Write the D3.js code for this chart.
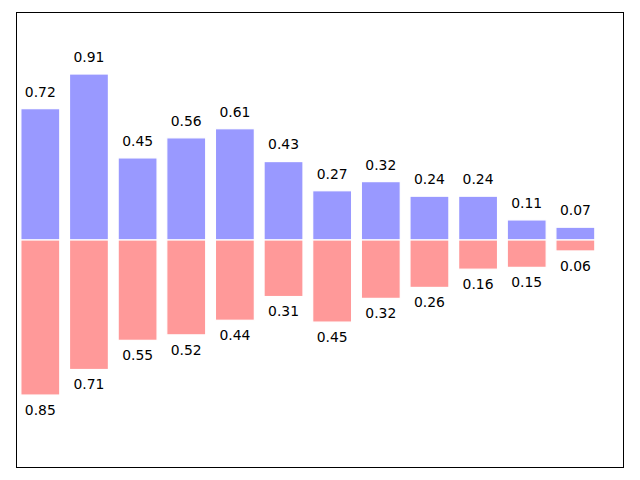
<!DOCTYPE html>
<html>
<head>
<meta charset="utf-8">
<script src="https://cdn.jsdelivr.net/npm/d3@7"></script>
<style>
  body { margin: 0; background: #fff; }
  svg { display: block; }
  text { font-family: "DejaVu Sans", sans-serif; font-size: 13.9px; fill: #000; }
</style>
</head>
<body>
<script>
// values
let indices = [0, 1, 2, 3, 4, 5, 6, 7, 8, 9, 10, 11];
let upper = [0.72, 0.91, 0.45, 0.56, 0.61, 0.43, 0.27, 0.32, 0.24, 0.24, 0.11, 0.07];
let lower = [0.85, 0.71, 0.55, 0.52, 0.44, 0.31, 0.45, 0.32, 0.26, 0.16, 0.15, 0.06];

const width = 640, height = 480;
const plotL = 16, plotR = 624, plotT = 12, plotB = 468;

const svg = d3.select("body").append("svg").attr("width", width).attr("height", height);

let x = d3.scaleLinear().domain([-0.5, 12]).range([plotL, plotR]);
let y = d3.scaleLinear().domain([-1.25, 1.25]).range([plotB, plotT]);
const barW = 0.8;

const g = svg.append("g");

// blue bars (up)
g.selectAll(".up").data(indices).enter().append("rect")
  .attr("class", "up")
  .attr("x", i => x(i - barW / 2))
  .attr("width", i => x(i + barW / 2) - x(i - barW / 2))
  .attr("y", i => y(upper[i]))
  .attr("height", i => y(0) - y(upper[i]))
  .attr("fill", "#9999ff").attr("stroke", "#fff").attr("stroke-width", 1.2);

// red bars (down)
g.selectAll(".down").data(indices).enter().append("rect")
  .attr("class", "down")
  .attr("x", i => x(i - barW / 2))
  .attr("width", i => x(i + barW / 2) - x(i - barW / 2))
  .attr("y", y(0))
  .attr("height", i => y(-lower[i]) - y(0))
  .attr("fill", "#ff9999").attr("stroke", "#fff").attr("stroke-width", 1.2);

// labels
g.selectAll(".lu").data(indices).enter().append("text")
  .attr("x", i => x(i)).attr("y", i => y(upper[i] + 0.05) - 3)
  .attr("text-anchor", "middle")
  .text(i => upper[i].toFixed(2));

g.selectAll(".ld").data(indices).enter().append("text")
  .attr("x", i => x(i)).attr("y", i => y(-lower[i] - 0.05) + 10.8)
  .attr("text-anchor", "middle")
  .text(i => lower[i].toFixed(2));

// frame (snapped to pixel centres)
svg.append("rect")
  .attr("x", plotL + 0.5).attr("y", plotT + 0.5)
  .attr("width", plotR - plotL - 1).attr("height", plotB - plotT - 1)
  .attr("fill", "none").attr("stroke", "#000").attr("stroke-width", 1);
</script>
</body>
</html>
